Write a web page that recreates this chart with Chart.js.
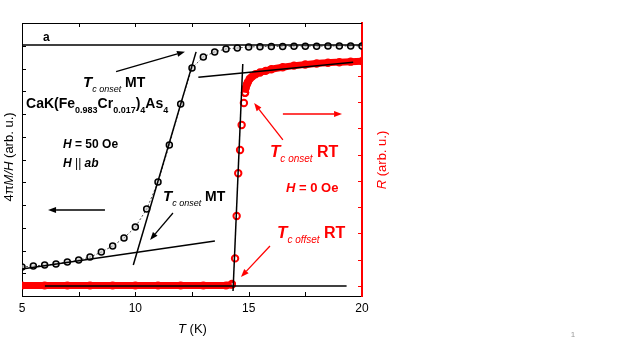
<!DOCTYPE html>
<html>
<head>
<meta charset="utf-8">
<script src="https://cdn.jsdelivr.net/npm/chart.js@4.4.0/dist/chart.umd.min.js"></script>
<style>
  body { margin: 0; background: #fff; }
  canvas { display: block; }
</style>
</head>
<body>
<canvas id="grafica" width="623" height="350"></canvas>
<script>
// temperaturas (K) y datos de magnetizacion 4piM/H (arb. u.)
var tMT = [5, 5.5, 6, 6.5, 7, 7.5, 8, 8.5, 9, 9.5, 10, 10.5, 11, 11.5, 12, 12.5, 13, 13.5, 14, 14.5, 15, 15.5, 16, 16.5, 17, 17.5, 18, 18.5, 19, 19.5, 20];
var mtValues = [1.27, 1.32, 1.36, 1.41, 1.49, 1.58, 1.71, 1.93, 2.20, 2.55, 3.03, 3.82, 5.01, 6.64, 8.44, 10.02, 10.51, 10.73, 10.86, 10.90, 10.95, 10.96, 10.97, 10.97, 10.98, 10.98, 10.98, 10.99, 10.99, 10.99, 10.99];

// resistencia R (arb. u.): zona superconductora, transicion y estado normal
var tRTlow = [5, 6, 7, 8, 9, 10, 11, 12, 13, 14, 14.26];
var rRTlow = [0.02, 0.02, 0.02, 0.02, 0.02, 0.02, 0.02, 0.02, 0.02, 0.02, 0.05];
var tRTstep = [14.26, 14.40, 14.47, 14.54, 14.62, 14.69, 14.79, 14.84];
var rRTstep = [0.08, 1.05, 2.66, 4.29, 5.17, 6.12, 6.96, 7.35];
var tRThigh = [14.84, 14.87, 14.92, 14.97, 15.05, 15.15, 15.3, 15.5, 15.75, 16, 16.5, 17, 17.5, 18, 18.5, 19, 19.5, 20];
var rRThigh = [7.35, 7.53, 7.66, 7.76, 7.88, 7.96, 8.05, 8.12, 8.18, 8.24, 8.32, 8.38, 8.42, 8.46, 8.49, 8.51, 8.53, 8.55];

// rectas de ajuste (extremos)
var mtSteepT = [9.91, 12.68], mtSteepV = [1.36, 10.73];
var mtBaseT = [5, 13.51], mtBaseV = [1.19, 2.42];
var mtTopT = [5, 20], mtTopV = [11.03, 11.03];
var rtSteepT = [14.74, 14.31], rtSteepV = [8.44, -0.19];
var rtNormT = [12.78, 19.61], rtNormV = [7.94, 8.51];
var rtBaseT = [6.01, 19.32], rtBaseV = [0, 0];

// ticks
var xTicks = [5, 7.5, 10, 12.5, 15, 17.5, 20];
var yTicks = [1, 2, 3, 4, 5, 6, 7, 8, 9, 10, 11];
var rTicks = [0, 1, 2, 3, 4, 5, 6, 7, 8];

var RED = '#ff0000';
var FONT = '"Liberation Sans", Arial, sans-serif';

function pts(xs, ys) {
    return xs.map(function (x, i) { return { x: x, y: ys[i] }; });
}

function fitLine(xs, ys, axis) {
    return {
        data: pts(xs, ys), yAxisID: axis, showLine: true,
        borderColor: '#000', borderWidth: 1.5, pointRadius: 0, order: 0
    };
}

function arrow(ctx, x1, y1, x2, y2, color) {
    var a = Math.atan2(y2 - y1, x2 - x1), L = 8, W = 3;
    var bx = x2 - L * Math.cos(a), by = y2 - L * Math.sin(a);
    ctx.strokeStyle = color; ctx.fillStyle = color; ctx.lineWidth = 1.3;
    ctx.beginPath(); ctx.moveTo(x1, y1); ctx.lineTo(bx, by); ctx.stroke();
    ctx.beginPath();
    ctx.moveTo(x2, y2);
    ctx.lineTo(bx + W * Math.sin(a), by - W * Math.cos(a));
    ctx.lineTo(bx - W * Math.sin(a), by + W * Math.cos(a));
    ctx.closePath(); ctx.fill();
}

function rich(ctx, x, y, parts, color) {
    ctx.fillStyle = color; ctx.textAlign = 'left'; ctx.textBaseline = 'alphabetic';
    parts.forEach(function (p) {
        ctx.font = p[1] + ' ' + FONT;
        ctx.fillText(p[0], x, y + (p[2] || 0));
        x += ctx.measureText(p[0]).width;
    });
}

// textos y flechas (en unidades de T y del eje izquierdo)
var extras = {
    id: 'extras',
    afterDraw: function (chart) {
        var ctx = chart.ctx, xs = chart.scales.x, ys = chart.scales.y, rs = chart.scales.yR;
        var a = chart.chartArea;
        function X(t) { return xs.getPixelForValue(t); }
        function Y(v) { return ys.getPixelForValue(v); }
        ctx.save();

        // borde superior y ticks hacia dentro
        ctx.strokeStyle = '#000'; ctx.lineWidth = 1;
        ctx.beginPath(); ctx.moveTo(a.left, a.top + 0.5); ctx.lineTo(a.right, a.top + 0.5); ctx.stroke();
        ctx.beginPath();
        xTicks.slice(1, -1).forEach(function (t) {
            var p = Math.round(X(t)) + 0.5;
            ctx.moveTo(p, a.bottom); ctx.lineTo(p, a.bottom - 4);
            ctx.moveTo(p, a.top); ctx.lineTo(p, a.top + 4);
        });
        yTicks.forEach(function (v) {
            var p = Math.round(Y(v)) + 0.5;
            ctx.moveTo(a.left, p); ctx.lineTo(a.left + 4, p);
        });
        ctx.stroke();
        ctx.strokeStyle = RED;
        ctx.beginPath();
        rTicks.forEach(function (v) {
            var p = Math.round(rs.getPixelForValue(v)) + 0.5;
            ctx.moveTo(a.right, p); ctx.lineTo(a.right - 4, p);
        });
        ctx.stroke();

        // titulos de ejes
        ctx.textBaseline = 'alphabetic';
        rich(ctx, 178, 333, [['T', 'italic 13px'], [' (K)', '13px']], '#000');
        ctx.save();
        ctx.translate(13, 157); ctx.rotate(-Math.PI / 2);
        ctx.font = '13px ' + FONT;
        var w1 = ctx.measureText('4π').width;
        ctx.font = 'italic 13px ' + FONT;
        var w2 = ctx.measureText('M/H').width;
        ctx.font = '13px ' + FONT;
        var w3 = ctx.measureText(' (arb. u.)').width;
        rich(ctx, -(w1 + w2 + w3) / 2, 0, [['4π', '13px'], ['M/H', 'italic 13px'], [' (arb. u.)', '13px']], '#000');
        ctx.restore();
        ctx.save();
        ctx.translate(386, 160); ctx.rotate(-Math.PI / 2);
        ctx.font = 'italic 13px ' + FONT;
        var r1 = ctx.measureText('R').width;
        ctx.font = '13px ' + FONT;
        var r2 = ctx.measureText(' (arb. u.)').width;
        rich(ctx, -(r1 + r2) / 2, 0, [['R', 'italic 13px'], [' (arb. u.)', '13px']], RED);
        ctx.restore();

        // anotaciones negras
        rich(ctx, X(5.93), Y(11.21), [['a', 'bold 12px']], '#000');
        arrow(ctx, X(9.15), Y(9.86), X(12.19), Y(10.74), '#000');
        rich(ctx, X(7.69), Y(9.19), [['T', 'bold italic 15px'], ['c onset', 'italic 9px', 5], [' MT', 'bold 14px']], '#000');
        rich(ctx, X(5.18), Y(8.26), [['CaK(Fe', 'bold 14px'], ['0.983', 'bold 9px', 5], ['Cr', 'bold 14px'], ['0.017', 'bold 9px', 5], [')', 'bold 14px'], ['4', 'bold 9px', 5], ['As', 'bold 14px'], ['4', 'bold 9px', 5]], '#000');
        rich(ctx, X(6.81), Y(6.51), [['H', 'bold italic 12px'], [' = 50 Oe', 'bold 12px']], '#000');
        rich(ctx, X(6.81), Y(5.68), [['H', 'bold italic 12px'], [' || ', '12px'], ['ab', 'bold italic 12px']], '#000');
        arrow(ctx, X(8.66), Y(3.78), X(6.15), Y(3.78), '#000');
        rich(ctx, X(11.22), Y(4.18), [['T', 'bold italic 15px'], ['c onset', 'italic 9px', 5], [' MT', 'bold 14px']], '#000');
        arrow(ctx, X(11.66), Y(3.65), X(10.65), Y(2.46), '#000');

        // anotaciones rojas
        arrow(ctx, X(16.51), Y(8.0), X(19.12), Y(8.0), RED);
        arrow(ctx, X(16.51), Y(6.86), X(15.24), Y(8.48), RED);
        rich(ctx, X(15.94), Y(6.11), [['T', 'bold italic 17px'], ['c onset', 'italic 10px', 5], [' RT', 'bold 16px']], RED);
        rich(ctx, X(16.65), Y(4.58), [['H', 'bold italic 13px'], [' = 0 Oe', 'bold 13px']], RED);
        rich(ctx, X(16.25), Y(2.54), [['T', 'bold italic 17px'], ['c offset', 'italic 10px', 5], [' RT', 'bold 16px']], RED);
        arrow(ctx, X(15.94), Y(2.20), X(14.66), Y(0.835), RED);

        // numero de pagina
        ctx.fillStyle = '#999'; ctx.font = '8px ' + FONT; ctx.textAlign = 'center';
        ctx.fillText('1', 573, 337);
        ctx.restore();
    }
};

var gx = document.getElementById('grafica').getContext('2d');
var grafica = new Chart(gx, {
    type: 'scatter',
    data: {
        datasets: [
            fitLine(mtSteepT, mtSteepV, 'y'),
            fitLine(mtBaseT, mtBaseV, 'y'),
            fitLine(mtTopT, mtTopV, 'y'),
            fitLine(rtSteepT, rtSteepV, 'yR'),
            fitLine(rtNormT, rtNormV, 'yR'),
            fitLine(rtBaseT, rtBaseV, 'yR'),
            {
                data: pts(tMT, mtValues), yAxisID: 'y', showLine: true, order: 1, clip: 0,
                borderColor: '#222', borderWidth: 0.8, borderDash: [2, 2],
                pointRadius: 3, pointBorderWidth: 1.5, pointBorderColor: '#000',
                pointBackgroundColor: 'rgba(200,200,200,0.6)'
            },
            {
                data: pts(tRTlow, rRTlow), yAxisID: 'yR', showLine: true, order: 2, clip: 0,
                borderColor: RED, borderWidth: 7, pointRadius: 3, pointBorderWidth: 2,
                pointBorderColor: RED, pointBackgroundColor: 'rgba(0,0,0,0)'
            },
            {
                data: pts(tRTstep, rRTstep), yAxisID: 'yR', showLine: false, order: 2, clip: 0,
                pointRadius: 3.2, pointBorderWidth: 2, pointBorderColor: RED,
                pointBackgroundColor: 'rgba(0,0,0,0)'
            },
            {
                data: pts(tRThigh, rRThigh), yAxisID: 'yR', showLine: true, order: 2, clip: 0,
                borderColor: RED, borderWidth: 7, tension: 0.3, pointRadius: 3.2, pointBorderWidth: 2,
                pointBorderColor: RED, pointBackgroundColor: 'rgba(0,0,0,0)'
            }
        ]
    },
    options: {
        responsive: false,
        animation: false,
        layout: { padding: { top: 23, left: 0, right: 0, bottom: 0 } },
        plugins: { legend: { display: false }, tooltip: { enabled: false } },
        scales: {
            x: {
                type: 'linear', position: 'bottom', min: 5, max: 20,
                grid: { display: false, drawTicks: false },
                border: { display: true, color: '#000', width: 1 },
                afterBuildTicks: function (s) { s.ticks = xTicks.map(function (v) { return { value: v }; }); },
                ticks: {
                    autoSkip: false, maxRotation: 0, padding: 5, color: '#000',
                    font: { family: FONT, size: 12 },
                    callback: function (v) { return v % 5 === 0 ? String(v) : ''; }
                },
                afterFit: function (s) { s.height = 54; }
            },
            y: {
                type: 'linear', position: 'left', min: 0, max: 12,
                grid: { display: false },
                border: { display: true, color: '#000', width: 1 },
                ticks: { display: false },
                afterFit: function (s) { s.width = 22; }
            },
            yR: {
                type: 'linear', axis: 'y', position: 'right', min: -0.38, max: 10,
                grid: { display: false },
                border: { display: true, color: RED, width: 2 },
                ticks: { display: false },
                afterFit: function (s) { s.width = 261; }
            }
        }
    },
    plugins: [extras]
});
</script>
</body>
</html>
